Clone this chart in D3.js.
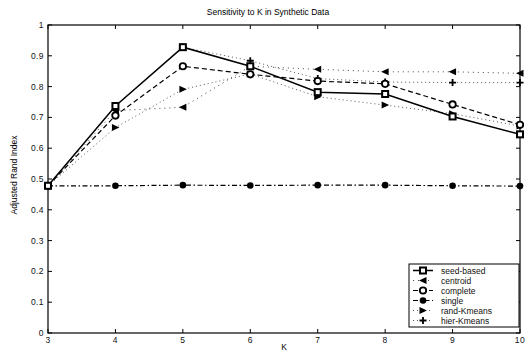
<!DOCTYPE html>
<html lang="en">
<head>
  <meta charset="UTF-8">
  <title>Sensitivity to K in Synthetic Data</title>
  <script src="https://d3js.org/d3.v7.min.js"></script>
  <style>
    body { margin: 0; background: #fff; }
    svg { display: block; font-family: 'Liberation Sans', Arial, sans-serif; }
    .tick-label { font-size: 8.5px; fill: #111; letter-spacing: 0.4px; }
    .legend text { font-size: 8.5px; fill: #111; }
  </style>
</head>
<body>
  <svg id="chart" width="530" height="354"></svg>
  <script>
    // values
    const ks = [3, 4, 5, 6, 7, 8, 9, 10];
    const seedBased  = [0.478, 0.737, 0.928, 0.866, 0.782, 0.776, 0.703, 0.645];
    const centroid   = [0.478, 0.722, 0.733, 0.866, 0.856, 0.848, 0.848, 0.843];
    const complete   = [0.478, 0.706, 0.866, 0.840, 0.818, 0.809, 0.742, 0.676];
    const single     = [0.478, 0.478, 0.480, 0.479, 0.480, 0.480, 0.478, 0.477];
    const randKmeans = [0.478, 0.667, 0.791, 0.841, 0.767, 0.740, 0.712, 0.672];
    const hierKmeans = [0.478, 0.737, 0.928, 0.884, 0.826, 0.815, 0.813, 0.813];
    const yTicks = [0, 0.1, 0.2, 0.3, 0.4, 0.5, 0.6, 0.7, 0.8, 0.9, 1];

    const series = [
      { name: "seed-based",  values: seedBased,  marker: "square",   dash: null,          width: 1.5, color: "#000" },
      { name: "centroid",    values: centroid,   marker: "left",     dash: "1,4",         width: 1,   color: "#444" },
      { name: "complete",    values: complete,   marker: "circle",   dash: "5,3",         width: 1.2, color: "#000" },
      { name: "single",      values: single,     marker: "dot",      dash: "5,2.5,1.5,2.5", width: 1.2, color: "#000" },
      { name: "rand-Kmeans", values: randKmeans, marker: "right",    dash: "1,3",         width: 1,   color: "#555" },
      { name: "hier-Kmeans", values: hierKmeans, marker: "plus",     dash: "1,3",         width: 1,   color: "#555" }
    ];

    const svg = d3.select("#chart");
    const x = d3.scaleLinear().domain([3, 10]).range([48, 520]);
    const y = d3.scaleLinear().domain([0, 1]).range([333, 25]);

    // frame
    svg.append("rect")
      .attr("x", x(3)).attr("y", y(1))
      .attr("width", x(10) - x(3)).attr("height", y(0) - y(1))
      .attr("fill", "none").attr("stroke", "#000").attr("stroke-width", 1.2);

    // ticks pointing inward, on all four sides
    const gx = svg.append("g");
    ks.forEach(k => {
      gx.append("line").attr("x1", x(k)).attr("x2", x(k)).attr("y1", y(0)).attr("y2", y(0) - 4).attr("stroke", "#000");
      gx.append("line").attr("x1", x(k)).attr("x2", x(k)).attr("y1", y(1)).attr("y2", y(1) + 4).attr("stroke", "#000");
      gx.append("text").attr("class", "tick-label")
        .attr("x", x(k)).attr("y", y(0) + 10).attr("text-anchor", "middle").text(k);
    });
    yTicks.forEach(t => {
      gx.append("line").attr("x1", x(3)).attr("x2", x(3) + 4).attr("y1", y(t)).attr("y2", y(t)).attr("stroke", "#000");
      gx.append("line").attr("x1", x(10)).attr("x2", x(10) - 4).attr("y1", y(t)).attr("y2", y(t)).attr("stroke", "#000");
      gx.append("text").attr("class", "tick-label")
        .attr("x", x(3) - 4).attr("y", y(t) + 3).attr("text-anchor", "end").text(t);
    });

    // titles
    svg.append("text").attr("x", 268).attr("y", 15).attr("text-anchor", "middle")
      .attr("font-size", 8.5).text("Sensitivity to K in Synthetic Data");
    svg.append("text").attr("x", 284).attr("y", 350).attr("text-anchor", "middle")
      .attr("font-size", 8.5).text("K");
    svg.append("text").attr("transform", "translate(17,175) rotate(-90)").attr("text-anchor", "middle")
      .attr("font-size", 8.5).text("Adjusted Rand Index");

    function drawMarker(g, type, cx, cy) {
      if (type === "square") {
        g.append("rect").attr("x", cx - 3).attr("y", cy - 3).attr("width", 6).attr("height", 6)
          .attr("fill", "#fff").attr("stroke", "#000").attr("stroke-width", 2);
      } else if (type === "circle") {
        g.append("circle").attr("cx", cx).attr("cy", cy).attr("r", 3.2)
          .attr("fill", "#fff").attr("stroke", "#000").attr("stroke-width", 1.8);
      } else if (type === "dot") {
        g.append("circle").attr("cx", cx).attr("cy", cy).attr("r", 3.3).attr("fill", "#000");
      } else if (type === "left") {
        g.append("path").attr("d", `M${cx - 4},${cy} L${cx + 3.5},${cy - 3.5} L${cx + 3.5},${cy + 3.5} Z`).attr("fill", "#000");
      } else if (type === "right") {
        g.append("path").attr("d", `M${cx + 4},${cy} L${cx - 3.5},${cy - 3.5} L${cx - 3.5},${cy + 3.5} Z`).attr("fill", "#000");
      } else if (type === "plus") {
        g.append("path").attr("d", `M${cx - 3.5},${cy} H${cx + 3.5} M${cx},${cy - 3.5} V${cy + 3.5}`)
          .attr("stroke", "#000").attr("stroke-width", 1.8);
      }
    }

    const line = d3.line().x((d, i) => x(ks[i])).y(d => y(d));
    const plot = svg.append("g");
    // draw faint series first so the solid/dashed ones stay on top
    [4, 5, 1, 3, 2, 0].forEach(idx => {
      const s = series[idx];
      plot.append("path").datum(s.values).attr("d", line)
        .attr("fill", "none").attr("stroke", s.color).attr("stroke-width", s.width)
        .attr("stroke-dasharray", s.dash);
    });
    [4, 5, 1, 3, 2, 0].forEach(idx => {
      const s = series[idx];
      s.values.forEach((v, i) => drawMarker(plot, s.marker, x(ks[i]), y(v)));
    });

    // legend
    const lg = svg.append("g").attr("class", "legend");
    lg.append("rect").attr("x", 409).attr("y", 264).attr("width", 110).attr("height", 63)
      .attr("fill", "#fff").attr("stroke", "#000").attr("stroke-width", 1);
    series.forEach((s, i) => {
      const cy = 270.5 + i * 10;
      lg.append("line").attr("x1", 413).attr("x2", 433).attr("y1", cy).attr("y2", cy)
        .attr("stroke", s.color).attr("stroke-width", s.width).attr("stroke-dasharray", s.dash);
      drawMarker(lg, s.marker, 423, cy);
      lg.append("text").attr("x", 441).attr("y", cy + 3).text(s.name);
    });
  </script>
</body>
</html>
